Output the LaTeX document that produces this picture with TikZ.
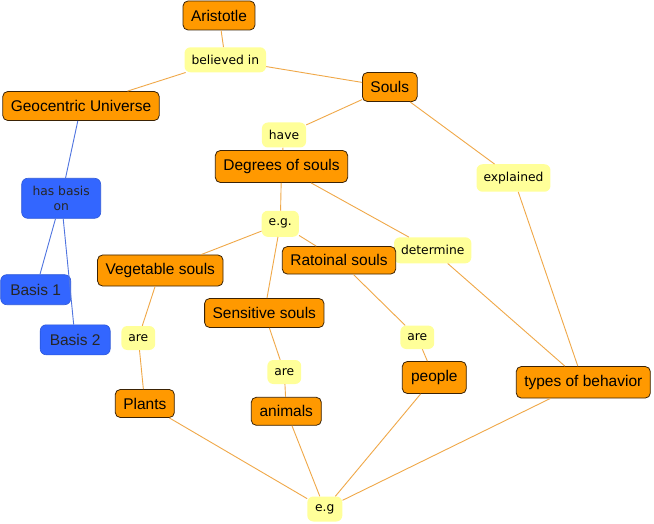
\documentclass[tikz,border=0pt]{standalone}
\usepackage{fontspec}
\setmainfont{Liberation Sans}
\newfontfamily\lblfont{DejaVu Sans}
\definecolor{concfill}{HTML}{FF9900}
\definecolor{concdraw}{HTML}{3A2205}
\definecolor{labfill}{HTML}{FFFF99}
\definecolor{bluefill}{HTML}{3366FF}
\definecolor{olinec}{HTML}{F0A848}
\definecolor{blinec}{HTML}{4F74E0}
\tikzset{
  concept/.style={draw=concdraw, fill=concfill, line width=0.8pt, rounded corners=5pt,
    font=\fontsize{15.5}{18}\selectfont, inner xsep=8pt, inner ysep=2pt, minimum height=29pt, text=black},
  linklab/.style={fill=labfill, rounded corners=6pt, font=\lblfont\fontsize{12.3}{14}\selectfont,
    inner xsep=7pt, inner ysep=2pt, minimum height=25pt, text=black},
  bluebox/.style={draw=bluefill!85!black, fill=bluefill, line width=0.6pt, rounded corners=6pt,
    font=\fontsize{15.5}{18}\selectfont, inner xsep=7pt, inner ysep=2pt, minimum height=30pt, minimum width=70pt, text=black!85},
  bluelab/.style={bluebox, font=\lblfont\fontsize{12.3}{15}\selectfont, align=center, minimum height=40pt, minimum width=79pt},
  oedge/.style={draw=olinec, line width=0.9pt},
  bedge/.style={draw=blinec, line width=0.9pt}
}
\begin{document}
\begin{tikzpicture}[x=1pt,y=-1pt]
\useasboundingbox[fill=white] (0,0) rectangle (654,524);
% link labels
\node[linklab] (bel) at (225.3,59.8) {believed in};
\node[linklab] (have) at (284,135) {have};
\node[linklab, minimum height=27.5pt] (expl) at (513.5,178) {explained};
\node[linklab, minimum height=26pt] (eg1) at (280.3,223.8) {e.g.};
\node[linklab, minimum height=26pt] (det) at (432.7,250.3) {determine};
\node[linklab, minimum height=24pt] (are1) at (138.3,338) {are};
\node[linklab, minimum height=24pt] (are2) at (284.3,372) {are};
\node[linklab, minimum height=23.5pt] (are3) at (417.3,337.3) {are};
\node[linklab, minimum width=35pt] (eg2) at (324.8,509) {e.g};
% concepts
\node[concept] (arist) at (219,15.5) {Aristotle};
\node[concept] (geo) at (81,106) {Geocentric Universe};
\node[concept] (souls) at (389.8,87) {Souls};
\node[concept, minimum height=32pt] (deg) at (281.5,166.5) {Degrees of souls};
\node[concept, minimum height=31pt] (veg) at (160.3,270.5) {Vegetable souls};
\node[concept, minimum height=27.5pt] (rat) at (339,260.3) {Ratoinal souls};
\node[concept] (sens) at (264.3,313) {Sensitive souls};
\node[concept, minimum height=32pt, minimum width=64pt] (people) at (434.3,377.5) {people};
\node[concept, minimum height=31.5pt] (types) at (583.3,382.3) {types of behavior};
\node[concept, minimum height=28pt] (plants) at (144.8,403.5) {Plants};
\node[concept, minimum height=28pt, minimum width=70pt] (animals) at (286.3,411.3) {animals};
% blue
\node[bluelab] (hasb) at (61.2,198.3) {has basis\\on};
\node[bluebox] (b1) at (35.7,289.7) {Basis 1};
\node[bluebox] (b2) at (75.2,339.8) {Basis 2};
% edges
\path[oedge] (arist) -- (bel);
\path[oedge] (bel) -- (geo);
\path[oedge] (bel) -- (souls);
\path[oedge] (souls) -- (have);
\path[oedge] (have) -- (deg);
\path[oedge] (souls) -- (expl);
\path[oedge] (expl) -- (types);
\path[oedge] (deg) -- (eg1);
\path[oedge] (deg) -- (det);
\path[oedge] (det) -- (types);
\path[oedge] (eg1) -- (veg);
\path[oedge] (eg1) -- (sens);
\path[oedge] (eg1) -- (rat);
\path[oedge] (veg) -- (are1);
\path[oedge] (are1) -- (plants);
\path[oedge] (sens) -- (are2);
\path[oedge] (are2) -- (animals);
\path[oedge] (rat) -- (are3);
\path[oedge] (are3) -- (people);
\path[oedge] (plants) -- (eg2);
\path[oedge] (animals) -- (eg2);
\path[oedge] (people) -- (eg2);
\path[oedge] (types) -- (eg2);
\path[bedge] (geo) -- (hasb);
\path[bedge] (hasb) -- (b1);
\path[bedge] (hasb) -- (b2);
\end{tikzpicture}
\end{document}
